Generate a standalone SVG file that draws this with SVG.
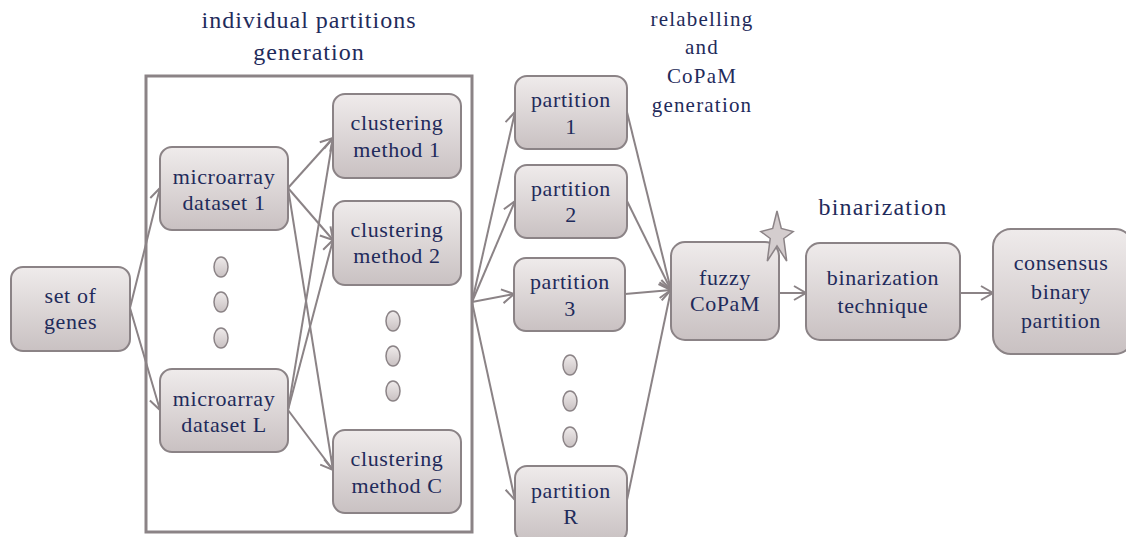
<svg xmlns="http://www.w3.org/2000/svg" width="1126" height="537" viewBox="0 0 1126 537">
<style>
.node rect{fill:url(#g);stroke:#8b8386;stroke-width:2}
.t{font-family:"Liberation Serif",serif;font-size:22px;letter-spacing:0.6px;fill:#1f2b5b;text-anchor:middle}
.lbl{font-family:"Liberation Serif",serif;fill:#1f2b5b;text-anchor:middle}
.c line{stroke:#8b8386;stroke-width:2;marker-end:url(#a)}
.dot{fill:url(#g);stroke:#8b8386;stroke-width:1.5}
</style>
<defs>
<linearGradient id="g" x1="0" y1="0" x2="0" y2="1">
<stop offset="0" stop-color="#efebeb"/>
<stop offset="1" stop-color="#c9c1c2"/>
</linearGradient>
<marker id="a" markerUnits="userSpaceOnUse" markerWidth="16" markerHeight="16" refX="14" refY="8" orient="auto">
<path d="M2,1 L14,8 L2,15" fill="none" stroke="#8b8386" stroke-width="2"/>
</marker>
</defs>
<rect x="146" y="76" width="326" height="456" fill="none" stroke="#8b8386" stroke-width="3"/>
<text class="lbl" font-size="24" letter-spacing="1" x="309" y="28">individual partitions</text>
<text class="lbl" font-size="24" letter-spacing="1" x="309" y="60">generation</text>
<text class="lbl" font-size="21" letter-spacing="1.2" x="702" y="26">relabelling</text>
<text class="lbl" font-size="21" letter-spacing="1.2" x="702" y="54">and</text>
<text class="lbl" font-size="21" letter-spacing="1.2" x="702" y="83">CoPaM</text>
<text class="lbl" font-size="21" letter-spacing="1.2" x="702" y="112">generation</text>
<text class="lbl" font-size="24" letter-spacing="1.2" x="883" y="215">binarization</text>
<g class="c">
<line x1="130" y1="308" x2="160" y2="188"/>
<line x1="130" y1="308" x2="160" y2="410"/>
<line x1="288" y1="188" x2="333" y2="138"/>
<line x1="288" y1="188" x2="333" y2="240"/>
<line x1="288" y1="188" x2="333" y2="470"/>
<line x1="288" y1="410" x2="333" y2="138"/>
<line x1="288" y1="410" x2="333" y2="240"/>
<line x1="288" y1="410" x2="333" y2="470"/>
<line x1="472" y1="302" x2="515" y2="112"/>
<line x1="472" y1="302" x2="515" y2="201"/>
<line x1="472" y1="302" x2="514" y2="294"/>
<line x1="472" y1="302" x2="515" y2="500"/>
<line x1="627" y1="112" x2="671" y2="290"/>
<line x1="627" y1="201" x2="671" y2="290"/>
<line x1="625" y1="294" x2="671" y2="290"/>
<line x1="627" y1="500" x2="671" y2="290"/>
<line x1="779" y1="293" x2="806" y2="293"/>
<line x1="960" y1="293" x2="993" y2="293"/>
</g>
<g id="n-genes" class="node"><rect x="11" y="267" width="119" height="84" rx="12"/><text class="t" x="70.5" y="303">set of</text><text class="t" x="70.5" y="329">genes</text></g>
<g id="n-ds1" class="node"><rect x="160" y="147" width="128" height="83" rx="12"/><text class="t" x="224" y="184">microarray</text><text class="t" x="224" y="210">dataset 1</text></g>
<g id="n-dsL" class="node"><rect x="160" y="369" width="128" height="83" rx="12"/><text class="t" x="224" y="406">microarray</text><text class="t" x="224" y="432">dataset L</text></g>
<g id="n-cm1" class="node"><rect x="333" y="94" width="128" height="84" rx="12"/><text class="t" x="397" y="130">clustering</text><text class="t" x="397" y="157">method 1</text></g>
<g id="n-cm2" class="node"><rect x="333" y="201" width="128" height="84" rx="12"/><text class="t" x="397" y="237">clustering</text><text class="t" x="397" y="263">method 2</text></g>
<g id="n-cmC" class="node"><rect x="333" y="430" width="128" height="83" rx="12"/><text class="t" x="397" y="466">clustering</text><text class="t" x="397" y="493">method C</text></g>
<g id="n-p1" class="node"><rect x="515" y="76" width="112" height="73" rx="12"/><text class="t" x="571" y="107">partition</text><text class="t" x="571" y="134">1</text></g>
<g id="n-p2" class="node"><rect x="515" y="165" width="112" height="73" rx="12"/><text class="t" x="571" y="196">partition</text><text class="t" x="571" y="222">2</text></g>
<g id="n-p3" class="node"><rect x="514" y="258" width="111" height="73" rx="12"/><text class="t" x="570" y="289">partition</text><text class="t" x="570" y="316">3</text></g>
<g id="n-pR" class="node"><rect x="515" y="466" width="112" height="76" rx="12"/><text class="t" x="571" y="498">partition</text><text class="t" x="571" y="524">R</text></g>
<g id="n-fuzzy" class="node"><rect x="671" y="242" width="108" height="98" rx="14"/><text class="t" x="725" y="285">fuzzy</text><text class="t" x="725" y="311">CoPaM</text></g>
<g id="n-bin" class="node"><rect x="806" y="243" width="154" height="97" rx="14"/><text class="t" x="883" y="285">binarization</text><text class="t" x="883" y="313">technique</text></g>
<g id="n-cons" class="node"><rect x="993" y="229" width="140" height="125" rx="18"/><text class="t" x="1061" y="270">consensus</text><text class="t" x="1061" y="299">binary</text><text class="t" x="1061" y="328">partition</text></g>
<polygon points="777,211 781.3,228.5 793.2,231.5 783.8,238.5 786.7,261 777,246 767.3,261 770.2,238.5 760.8,231.5 772.7,228.5" fill="#d4cdce" stroke="#8b8386" stroke-width="1.5"/>
<g id="dots">
<ellipse class="dot" cx="221" cy="267" rx="7" ry="10"/>
<ellipse class="dot" cx="221" cy="302" rx="7" ry="10"/>
<ellipse class="dot" cx="221" cy="338" rx="7" ry="10"/>
<ellipse class="dot" cx="393" cy="321" rx="7" ry="10"/>
<ellipse class="dot" cx="393" cy="356" rx="7" ry="10"/>
<ellipse class="dot" cx="393" cy="391" rx="7" ry="10"/>
<ellipse class="dot" cx="570" cy="365" rx="7" ry="10"/>
<ellipse class="dot" cx="570" cy="401" rx="7" ry="10"/>
<ellipse class="dot" cx="570" cy="437" rx="7" ry="10"/>
</g>
</svg>
